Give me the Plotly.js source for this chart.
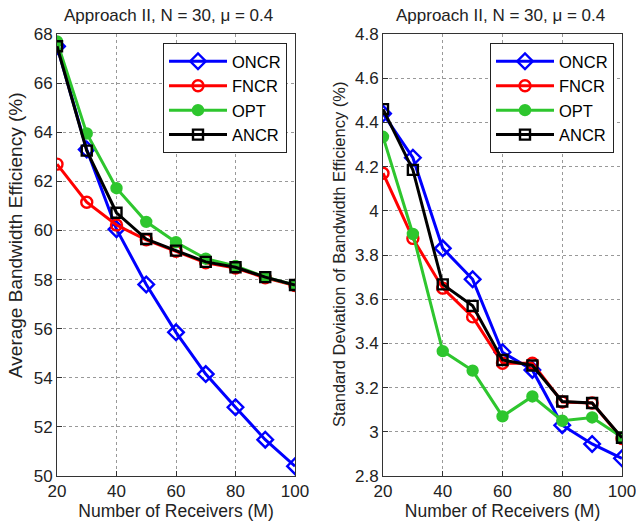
<!DOCTYPE html>
<html>
<head>
<meta charset="utf-8">
<script src="https://cdn.plot.ly/plotly-3.0.1.min.js"></script>
<style>html,body{margin:0;padding:0;background:#fff;}</style>
</head>
<body>
<div id="chart" style="width:636px;height:525px;"></div>
<script>
const receivers = [20, 30, 40, 50, 60, 70, 80, 90, 100];
const seriesNames = ['ONCR', 'FNCR', 'OPT', 'ANCR'];

// Left panel: average bandwidth efficiency (%)
const avgONCR = [67.5, 63.3, 60.05, 57.8, 55.85, 54.15, 52.8, 51.48, 50.4];
const avgFNCR = [62.7, 61.15, 60.22, 59.62, 59.15, 58.68, 58.47, 58.07, 57.76];
const avgOPT  = [67.7, 63.95, 61.72, 60.35, 59.52, 58.85, 58.55, 58.1, 57.78];
const avgANCR = [67.5, 63.25, 60.72, 59.65, 59.18, 58.72, 58.5, 58.1, 57.78];

// Right panel: standard deviation of bandwidth efficiency (%)
const stdONCR = [4.44, 4.24, 3.83, 3.69, 3.36, 3.28, 3.03, 2.945, 2.88];
const stdFNCR = [4.17, 3.875, 3.65, 3.52, 3.31, 3.31, 3.135, 3.13, 2.97];
const stdOPT  = [4.335, 3.895, 3.365, 3.277, 3.07, 3.16, 3.05, 3.065, 2.975];
const stdANCR = [4.46, 4.185, 3.667, 3.57, 3.325, 3.30, 3.137, 3.13, 2.973];

const titleText = 'Approach II, N = 30, \u03bc = 0.4';
const xTitle = 'Number of Receivers (M)';
const yTitleLeft = 'Average Bandwidth Efficiency (%)';
const yTitleRight = 'Standard Deviation of Bandwidth Efficiency (%)';

const FONT = 'Liberation Sans, Arial, sans-serif';
const styles = {
  ONCR: {color: '#0000ff', symbol: 'diamond-open', size: 12},
  FNCR: {color: '#ff0000', symbol: 'circle-open', size: 11},
  OPT:  {color: '#2ec62e', symbol: 'circle', size: 10},
  ANCR: {color: '#000000', symbol: 'square-open', size: 10}
};

const leftData = {ONCR: avgONCR, FNCR: avgFNCR, OPT: avgOPT, ANCR: avgANCR};
const rightData = {ONCR: stdONCR, FNCR: stdFNCR, OPT: stdOPT, ANCR: stdANCR};

const traces = [];
function addTraces(dataMap, xa, ya, legendId) {
  seriesNames.forEach(name => {
    const s = styles[name];
    traces.push({
      x: receivers, y: dataMap[name], name: name,
      type: 'scatter', mode: 'lines+markers',
      xaxis: xa, yaxis: ya, legend: legendId,
      line: {color: s.color, width: 3},
      marker: {symbol: s.symbol, size: s.size, color: s.color, line: {color: s.color, width: 2.4}}
    });
  });
}
addTraces(leftData, 'x', 'y', 'legend');
addTraces(rightData, 'x2', 'y2', 'legend2');

const tickFont = {family: FONT, size: 17, color: '#222'};
const xTitleFont = {family: FONT, size: 17.5, color: '#222'};
function xAxis(domain, anchor) {
  return {
    domain: domain, anchor: anchor, range: [20, 100], dtick: 20, tick0: 20,
    showline: true, mirror: true, linecolor: '#333', linewidth: 1,
    ticks: 'inside', ticklen: 5, tickcolor: '#333',
    showgrid: true, gridcolor: '#999', griddash: 'dot', gridwidth: 1,
    zeroline: false, tickfont: tickFont, automargin: false, ticklabeloverflow: 'allow',
    title: {text: xTitle, font: xTitleFont, standoff: 2}
  };
}
function yAxis(domain, anchor, range, dtick) {
  return {
    domain: domain, anchor: anchor, range: range, dtick: dtick,
    showline: true, mirror: true, linecolor: '#333', linewidth: 1,
    ticks: 'inside', ticklen: 5, tickcolor: '#333',
    showgrid: true, gridcolor: '#999', griddash: 'dot', gridwidth: 1,
    zeroline: false, tickfont: tickFont, automargin: false, ticklabeloverflow: 'allow'
  };
}

const yDom = [1 - 476/525, 1 - 34/525];
const legendCommon = {
  bgcolor: '#fff', bordercolor: '#222', borderwidth: 1,
  font: {family: FONT, size: 16.5, color: '#000'},
  xanchor: 'left', yanchor: 'top', tracegroupgap: 0, itemwidth: 58
};

const layout = {
  width: 636, height: 525,
  margin: {l: 0, r: 0, t: 0, b: 0},
  paper_bgcolor: '#fff', plot_bgcolor: '#fff',
  font: {family: FONT},
  xaxis: xAxis([57/636, 295/636], 'y'),
  yaxis: yAxis(yDom, 'x', [50, 68], 2),
  xaxis2: xAxis([383/636, 622/636], 'y2'),
  yaxis2: yAxis(yDom, 'x2', [2.8, 4.8], 0.2),
  legend: Object.assign({x: 163/636, y: 1 - 43/525}, legendCommon),
  legend2: Object.assign({x: 490/636, y: 1 - 43/525}, legendCommon),
  annotations: [
    {text: titleText, xref: 'paper', yref: 'paper', x: 168/636, y: 1 - 15/525,
     xanchor: 'center', yanchor: 'middle', showarrow: false,
     font: {family: FONT, size: 17, color: '#222'}},
    {text: titleText, xref: 'paper', yref: 'paper', x: 500/636, y: 1 - 15/525,
     xanchor: 'center', yanchor: 'middle', showarrow: false,
     font: {family: FONT, size: 17, color: '#222'}},
    {text: yTitleLeft, xref: 'paper', yref: 'paper', x: 16/636, y: 1 - 235/525,
     xanchor: 'center', yanchor: 'middle', textangle: -90, showarrow: false,
     font: {family: FONT, size: 19, color: '#222'}},
    {text: yTitleRight, xref: 'paper', yref: 'paper', x: 339/636, y: 1 - 255/525,
     xanchor: 'center', yanchor: 'middle', textangle: -90, showarrow: false,
     font: {family: FONT, size: 16.5, color: '#222'}}
  ]
};

Plotly.newPlot('chart', traces, layout, {displayModeBar: false, staticPlot: true});
</script>
</body>
</html>
